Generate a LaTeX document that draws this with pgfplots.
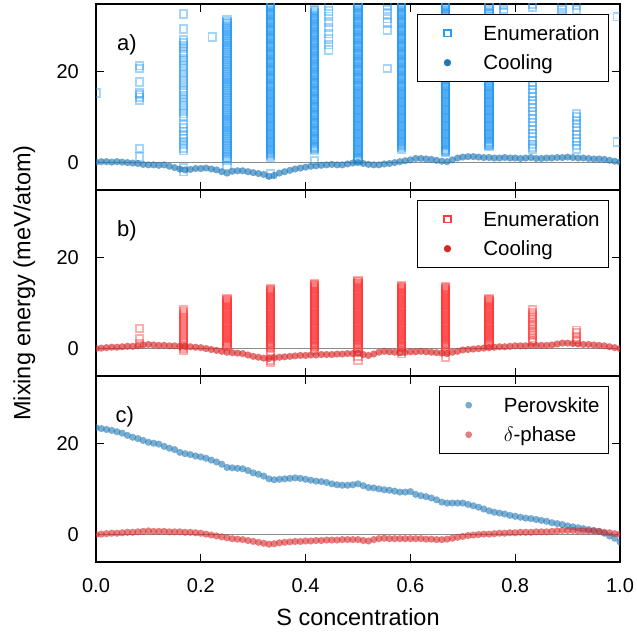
\documentclass[border=0pt]{standalone}
\usepackage{pgfplots}
\usepackage{pgfplotstable}
\pgfplotsset{compat=1.18}
\usepackage{fontspec}
\setmainfont{Liberation Sans}
\definecolor{enumblue}{HTML}{2B9AF3}
\definecolor{coolblue}{HTML}{1F77B4}
\definecolor{enumred}{HTML}{FF3B3B}
\definecolor{coolred}{HTML}{D62728}
\definecolor{zerogray}{HTML}{8C8C8C}

\pgfplotstableread{
x y
0.00 0.1
0.01 0.2
0.02 0.2
0.03 0.1
0.04 0.2
0.05 0.1
0.06 0.0
0.07 -0.1
0.08 -0.2
0.09 -0.4
0.10 -0.5
0.11 -0.5
0.12 -0.6
0.13 -0.5
0.14 -0.8
0.15 -1.1
0.16 -1.4
0.17 -1.6
0.18 -1.5
0.19 -1.3
0.20 -1.3
0.21 -1.2
0.22 -1.4
0.23 -1.6
0.24 -2.0
0.25 -2.3
0.26 -1.9
0.27 -1.8
0.28 -1.8
0.29 -2.0
0.30 -2.2
0.31 -2.4
0.32 -2.6
0.33 -3.0
0.34 -2.8
0.35 -2.3
0.36 -2.0
0.37 -1.7
0.38 -1.4
0.39 -1.2
0.40 -1.0
0.41 -0.8
0.42 -0.7
0.43 -0.6
0.44 -0.5
0.45 -0.4
0.46 -0.5
0.47 -0.5
0.48 -0.3
0.49 -0.1
0.50 0.0
0.51 -0.2
0.52 -0.4
0.53 -0.5
0.54 -0.5
0.55 -0.3
0.56 -0.2
0.57 0.0
0.58 0.2
0.59 0.4
0.60 0.6
0.61 0.9
0.62 0.9
0.63 0.8
0.64 0.7
0.65 0.5
0.66 0.3
0.67 0.2
0.68 0.6
0.69 1.0
0.70 1.2
0.71 1.3
0.72 1.3
0.73 1.2
0.74 1.1
0.75 1.1
0.76 1.0
0.77 1.0
0.78 1.1
0.79 1.0
0.80 1.0
0.81 0.9
0.82 1.0
0.83 1.1
0.84 0.9
0.85 0.9
0.86 1.0
0.87 1.0
0.88 1.1
0.89 1.1
0.90 1.2
0.91 1.1
0.92 1.0
0.93 1.0
0.94 0.9
0.95 0.8
0.96 0.8
0.97 0.7
0.98 0.5
0.99 0.3
1.00 0.1
}\coolA

\pgfplotstableread{
x y
0.00 0.0
0.01 0.1
0.02 0.2
0.03 0.3
0.04 0.3
0.05 0.4
0.06 0.5
0.07 0.5
0.08 0.6
0.09 0.8
0.10 0.9
0.11 0.8
0.12 0.7
0.13 0.7
0.14 0.6
0.15 0.6
0.16 0.5
0.17 0.5
0.18 0.4
0.19 0.3
0.20 0.2
0.21 0.0
0.22 -0.2
0.23 -0.4
0.24 -0.6
0.25 -0.8
0.26 -0.9
0.27 -1.0
0.28 -1.1
0.29 -1.4
0.30 -1.7
0.31 -1.9
0.32 -2.1
0.33 -2.2
0.34 -2.0
0.35 -1.9
0.36 -1.8
0.37 -1.7
0.38 -1.6
0.39 -1.5
0.40 -1.5
0.41 -1.4
0.42 -1.4
0.43 -1.3
0.44 -1.3
0.45 -1.3
0.46 -1.2
0.47 -1.2
0.48 -1.1
0.49 -1.1
0.50 -1.0
0.51 -1.3
0.52 -1.5
0.53 -1.2
0.54 -0.8
0.55 -0.6
0.56 -0.7
0.57 -0.8
0.58 -0.9
0.59 -0.8
0.60 -0.7
0.61 -0.7
0.62 -0.6
0.63 -0.7
0.64 -0.8
0.65 -0.9
0.66 -1.0
0.67 -1.1
0.68 -0.8
0.69 -0.6
0.70 -0.3
0.71 -0.2
0.72 -0.1
0.73 0.0
0.74 0.1
0.75 0.2
0.76 0.3
0.77 0.4
0.78 0.4
0.79 0.5
0.80 0.6
0.81 0.6
0.82 0.6
0.83 0.7
0.84 0.7
0.85 0.7
0.86 0.7
0.87 0.8
0.88 1.0
0.89 1.2
0.90 1.2
0.91 1.1
0.92 1.0
0.93 0.9
0.94 0.9
0.95 0.8
0.96 0.7
0.97 0.6
0.98 0.4
0.99 0.2
1.00 0.0
}\coolB

\pgfplotstableread{
x y
0.00 23.4
0.01 23.2
0.02 23.0
0.03 22.8
0.04 22.5
0.05 22.2
0.06 21.7
0.07 21.3
0.08 21.0
0.09 20.6
0.10 20.2
0.11 20.0
0.12 19.8
0.13 19.3
0.14 18.9
0.15 18.6
0.16 18.0
0.17 17.7
0.18 17.5
0.19 17.2
0.20 17.0
0.21 16.7
0.22 16.3
0.23 15.9
0.24 15.4
0.25 14.7
0.26 14.6
0.27 14.5
0.28 14.4
0.29 14.0
0.30 13.5
0.31 13.2
0.32 12.8
0.33 12.2
0.34 12.0
0.35 12.1
0.36 12.2
0.37 12.3
0.38 12.4
0.39 12.3
0.40 12.1
0.41 11.9
0.42 11.7
0.43 11.6
0.44 11.4
0.45 11.1
0.46 10.9
0.47 10.8
0.48 10.8
0.49 10.9
0.50 11.1
0.51 10.7
0.52 10.3
0.53 10.2
0.54 10.0
0.55 9.8
0.56 9.7
0.57 9.5
0.58 9.3
0.59 9.3
0.60 9.4
0.61 8.8
0.62 8.5
0.63 8.3
0.64 8.0
0.65 7.6
0.66 7.1
0.67 6.9
0.68 6.9
0.69 6.9
0.70 6.9
0.71 6.6
0.72 6.3
0.73 6.0
0.74 5.6
0.75 5.2
0.76 4.9
0.77 4.7
0.78 4.5
0.79 4.2
0.80 4.0
0.81 3.8
0.82 3.6
0.83 3.5
0.84 3.3
0.85 3.1
0.86 2.9
0.87 2.6
0.88 2.4
0.89 2.2
0.90 1.9
0.91 1.7
0.92 1.5
0.93 1.3
0.94 1.1
0.95 0.9
0.96 0.7
0.97 0.3
0.98 -0.3
0.99 -0.8
1.00 -1.6
}\perovtab

\pgfplotstableread{
x y
0.00 0.0
0.01 0.1
0.02 0.2
0.03 0.3
0.04 0.3
0.05 0.4
0.06 0.5
0.07 0.5
0.08 0.6
0.09 0.7
0.10 0.8
0.11 0.7
0.12 0.7
0.13 0.7
0.14 0.6
0.15 0.6
0.16 0.6
0.17 0.5
0.18 0.5
0.19 0.4
0.20 0.3
0.21 0.1
0.22 -0.1
0.23 -0.3
0.24 -0.5
0.25 -0.7
0.26 -0.9
0.27 -1.0
0.28 -1.1
0.29 -1.3
0.30 -1.5
0.31 -1.7
0.32 -1.9
0.33 -2.1
0.34 -2.0
0.35 -1.8
0.36 -1.7
0.37 -1.6
0.38 -1.5
0.39 -1.5
0.40 -1.4
0.41 -1.4
0.42 -1.3
0.43 -1.3
0.44 -1.2
0.45 -1.2
0.46 -1.2
0.47 -1.1
0.48 -1.1
0.49 -1.1
0.50 -1.1
0.51 -1.3
0.52 -1.4
0.53 -1.1
0.54 -0.9
0.55 -0.8
0.56 -0.9
0.57 -0.9
0.58 -0.9
0.59 -0.9
0.60 -0.9
0.61 -0.9
0.62 -0.9
0.63 -1.0
0.64 -1.0
0.65 -1.1
0.66 -1.1
0.67 -1.0
0.68 -0.8
0.69 -0.6
0.70 -0.4
0.71 -0.2
0.72 -0.1
0.73 0.0
0.74 0.1
0.75 0.1
0.76 0.2
0.77 0.3
0.78 0.3
0.79 0.4
0.80 0.4
0.81 0.5
0.82 0.5
0.83 0.5
0.84 0.6
0.85 0.6
0.86 0.6
0.87 0.7
0.88 0.8
0.89 0.9
0.90 0.9
0.91 0.9
0.92 0.8
0.93 0.8
0.94 0.8
0.95 0.8
0.96 0.7
0.97 0.5
0.98 0.4
0.99 0.2
1.00 0.1
}\deltatab

\pgfplotsset{
  panel/.style={
    scale only axis, width=524pt, height=186pt,
    xmin=0, xmax=1, ymin=-6, ymax=34.7,
    xtick={0,0.2,0.4,0.6,0.8,1}, ytick={0,20},
    tick align=inside, major tick length=8pt,
    every tick/.style={black, line width=1.3pt},
    axis line style={line width=1.8pt},
    tick label style={font=\fontsize{20}{24}\selectfont},
    /pgf/number format/assume math mode=true,
    yticklabel style={inner sep=0pt, xshift=-17pt},
    xticklabel style={inner sep=0pt, yshift=-16pt, /pgf/number format/.cd, fixed, fixed zerofill, precision=1},
    clip marker paths=true,
    legend cell align=left,
    legend style={at={(axis description cs:0.979,0.946)}, anchor=north east, draw=black, line width=0.8pt, fill=white,
      inner xsep=0pt, inner ysep=8.75pt, row sep=9.5pt, font=\fontsize{20.5}{24}\selectfont,
      nodes={inner xsep=9pt, inner ysep=0pt, text height=17pt, text depth=3pt}},
    legend image code/.code={\path (0pt,0pt) (55pt,0pt); \draw[##1,opacity=1,mark size=3.4pt] plot coordinates {(29pt,0pt)};},
  },
  enumA/.style={only marks, mark=square, mark size=3.8pt, color=enumblue, line width=1.8pt, opacity=0.42},
  enumB/.style={only marks, mark=square, mark size=3.8pt, color=enumred, line width=1.8pt, opacity=0.42},
  dots/.style={only marks, mark=*, mark size=3.6pt, line width=0.4pt, draw opacity=0, fill opacity=#1},
}

\begin{document}
\begin{tikzpicture}
\path[use as bounding box] (0pt,0pt) rectangle (637pt,635pt);

% ---------------- panel a ----------------
\begin{axis}[panel, at={(96pt,445pt)}, anchor=south west, xticklabels={}]
\addplot[forget plot, color=zerogray, line width=0.7pt] coordinates {(0,0) (1,0)};
\addplot[enumA] coordinates {
(0,15.2)
(0.083,21.2)(0.083,20.6)(0.083,17.6)(0.083,15.3)(0.083,14.9)(0.083,14.3)(0.083,13.6)(0.083,3.1)(0.083,1.3)
(0.167,32.5)(0.167,29.2)(0.167,26.8)(0.167,26.2)(0.167,25.5)(0.167,24.9)(0.167,24.2)(0.167,23.5)(0.167,22.8)(0.167,22.2)(0.167,21.4)(0.167,20.8)(0.167,20.1)(0.167,19.5)(0.167,18.8)(0.167,18.1)(0.167,17.5)(0.167,16.8)(0.167,16.0)(0.167,15.4)(0.167,14.7)(0.167,14.0)(0.167,13.3)(0.167,12.6)(0.167,12.0)(0.167,11.3)(0.167,10.7)(0.167,10.0)(0.167,8.5)(0.167,7.6)(0.167,6.8)(0.167,6.0)(0.167,5.3)(0.167,4.6)(0.167,3.9)(0.167,3.2)(0.167,2.6)(0.167,-1.1)(0.167,-2.0)
(0.222,27.5)
(0.25,31.2)(0.25,30.6)(0.25,30.0)(0.25,29.4)(0.25,28.8)(0.25,28.2)(0.25,27.6)(0.25,27.0)(0.25,26.4)(0.25,25.8)(0.25,25.2)(0.25,24.6)(0.25,24.0)(0.25,23.4)(0.25,22.8)(0.25,22.2)(0.25,21.6)(0.25,21.0)(0.25,20.4)(0.25,19.8)(0.25,19.2)(0.25,18.6)(0.25,18.0)(0.25,17.4)(0.25,16.8)(0.25,16.2)(0.25,15.6)(0.25,15.0)(0.25,14.4)(0.25,13.8)(0.25,13.2)(0.25,12.6)(0.25,12.0)(0.25,11.4)(0.25,10.8)(0.25,10.2)(0.25,9.6)(0.25,9.0)(0.25,8.4)(0.25,7.8)(0.25,7.2)(0.25,6.6)(0.25,6.0)(0.25,5.4)(0.25,4.8)(0.25,4.2)(0.25,3.6)(0.25,3.0)(0.25,2.4)(0.25,1.8)(0.25,1.2)(0.25,0.6)(0.25,-0.7)
(0.25,30.9)(0.25,30.3)(0.25,29.7)(0.25,29.1)(0.25,28.5)(0.25,27.9)(0.25,27.3)(0.25,26.7)(0.25,26.1)(0.25,25.5)(0.25,24.9)(0.25,24.3)(0.25,23.7)(0.25,23.1)(0.25,22.5)(0.25,21.9)(0.25,21.3)(0.25,20.7)(0.25,20.1)(0.25,19.5)(0.25,18.9)(0.25,18.3)(0.25,17.7)(0.25,17.1)(0.25,16.5)(0.25,15.9)(0.25,15.3)(0.25,14.7)(0.25,14.1)(0.25,13.5)(0.25,12.9)(0.25,12.3)(0.25,11.7)(0.25,11.1)(0.25,10.5)(0.25,9.9)(0.25,9.3)(0.25,8.7)(0.25,8.1)(0.25,7.5)(0.25,6.9)(0.25,6.3)(0.25,5.7)(0.25,5.1)(0.25,4.5)(0.25,3.9)(0.25,3.3)(0.25,2.7)(0.25,2.1)(0.25,1.5)(0.25,0.9)
(0.333,35.5)(0.333,35.0)(0.333,34.5)(0.333,34.0)(0.333,33.5)(0.333,33.0)(0.333,32.5)(0.333,32.0)(0.333,31.5)(0.333,31.0)(0.333,30.5)(0.333,30.0)(0.333,29.5)(0.333,29.0)(0.333,28.5)(0.333,28.0)(0.333,27.5)(0.333,27.0)(0.333,26.5)(0.333,26.0)(0.333,25.5)(0.333,25.0)(0.333,24.5)(0.333,24.0)(0.333,23.5)(0.333,23.0)(0.333,22.5)(0.333,22.0)(0.333,21.5)(0.333,21.0)(0.333,20.5)(0.333,20.0)(0.333,19.5)(0.333,19.0)(0.333,18.5)(0.333,18.0)(0.333,17.5)(0.333,17.0)(0.333,16.5)(0.333,16.0)(0.333,15.5)(0.333,15.0)(0.333,14.5)(0.333,14.0)(0.333,13.5)(0.333,13.0)(0.333,12.5)(0.333,12.0)(0.333,11.5)(0.333,11.0)(0.333,10.5)(0.333,10.0)(0.333,9.5)(0.333,9.0)(0.333,8.5)(0.333,8.0)(0.333,7.5)(0.333,7.0)(0.333,6.5)(0.333,6.0)(0.333,5.5)(0.333,5.0)(0.333,4.5)(0.333,4.0)(0.333,3.5)(0.333,3.0)(0.333,2.5)(0.333,2.0)(0.333,1.5)(0.333,1.2)(0.333,-2.5)
(0.333,35.25)(0.333,34.75)(0.333,34.25)(0.333,33.75)(0.333,33.25)(0.333,32.75)(0.333,32.25)(0.333,31.75)(0.333,31.25)(0.333,30.75)(0.333,30.25)(0.333,29.75)(0.333,29.25)(0.333,28.75)(0.333,28.25)(0.333,27.75)(0.333,27.25)(0.333,26.75)(0.333,26.25)(0.333,25.75)(0.333,25.25)(0.333,24.75)(0.333,24.25)(0.333,23.75)(0.333,23.25)(0.333,22.75)(0.333,22.25)(0.333,21.75)(0.333,21.25)(0.333,20.75)(0.333,20.25)(0.333,19.75)(0.333,19.25)(0.333,18.75)(0.333,18.25)(0.333,17.75)(0.333,17.25)(0.333,16.75)(0.333,16.25)(0.333,15.75)(0.333,15.25)(0.333,14.75)(0.333,14.25)(0.333,13.75)(0.333,13.25)(0.333,12.75)(0.333,12.25)(0.333,11.75)(0.333,11.25)(0.333,10.75)(0.333,10.25)(0.333,9.75)(0.333,9.25)(0.333,8.75)(0.333,8.25)(0.333,7.75)(0.333,7.25)(0.333,6.75)(0.333,6.25)(0.333,5.75)(0.333,5.25)(0.333,4.75)(0.333,4.25)(0.333,3.75)(0.333,3.25)(0.333,2.75)(0.333,2.25)(0.333,1.75)
(0.417,33.4)(0.417,32.9)(0.417,32.4)(0.417,31.9)(0.417,31.4)(0.417,30.9)(0.417,30.4)(0.417,29.9)(0.417,29.4)(0.417,28.9)(0.417,28.4)(0.417,27.9)(0.417,27.4)(0.417,26.9)(0.417,26.4)(0.417,25.9)(0.417,25.4)(0.417,24.9)(0.417,24.4)(0.417,23.9)(0.417,23.4)(0.417,22.9)(0.417,22.4)(0.417,21.9)(0.417,21.4)(0.417,20.9)(0.417,20.4)(0.417,19.9)(0.417,19.4)(0.417,18.9)(0.417,18.4)(0.417,17.9)(0.417,17.4)(0.417,16.9)(0.417,16.4)(0.417,15.9)(0.417,15.4)(0.417,14.9)(0.417,14.4)(0.417,13.9)(0.417,13.4)(0.417,12.9)(0.417,12.4)(0.417,11.9)(0.417,11.4)(0.417,10.9)(0.417,10.4)(0.417,9.9)(0.417,9.4)(0.417,8.9)(0.417,8.4)(0.417,7.9)(0.417,7.4)(0.417,6.9)(0.417,6.4)(0.417,5.9)(0.417,5.4)(0.417,4.9)(0.417,4.4)(0.417,3.9)(0.417,3.4)(0.417,2.9)(0.417,2.6)(0.417,0.4)
(0.417,33.15)(0.417,32.65)(0.417,32.15)(0.417,31.65)(0.417,31.15)(0.417,30.65)(0.417,30.15)(0.417,29.65)(0.417,29.15)(0.417,28.65)(0.417,28.15)(0.417,27.65)(0.417,27.15)(0.417,26.65)(0.417,26.15)(0.417,25.65)(0.417,25.15)(0.417,24.65)(0.417,24.15)(0.417,23.65)(0.417,23.15)(0.417,22.65)(0.417,22.15)(0.417,21.65)(0.417,21.15)(0.417,20.65)(0.417,20.15)(0.417,19.65)(0.417,19.15)(0.417,18.65)(0.417,18.15)(0.417,17.65)(0.417,17.15)(0.417,16.65)(0.417,16.15)(0.417,15.65)(0.417,15.15)(0.417,14.65)(0.417,14.15)(0.417,13.65)(0.417,13.15)(0.417,12.65)(0.417,12.15)(0.417,11.65)(0.417,11.15)(0.417,10.65)(0.417,10.15)(0.417,9.65)(0.417,9.15)(0.417,8.65)(0.417,8.15)(0.417,7.65)(0.417,7.15)(0.417,6.65)(0.417,6.15)(0.417,5.65)(0.417,5.15)(0.417,4.65)(0.417,4.15)(0.417,3.65)(0.417,3.15)
(0.444,34.3)(0.444,33.2)(0.444,32.0)(0.444,30.8)(0.444,29.5)(0.444,28.2)(0.444,27.0)(0.444,25.8)(0.444,24.6)
(0.5,35.5)(0.5,35.0)(0.5,34.5)(0.5,34.0)(0.5,33.5)(0.5,33.0)(0.5,32.5)(0.5,32.0)(0.5,31.5)(0.5,31.0)(0.5,30.5)(0.5,30.0)(0.5,29.5)(0.5,29.0)(0.5,28.5)(0.5,28.0)(0.5,27.5)(0.5,27.0)(0.5,26.5)(0.5,26.0)(0.5,25.5)(0.5,25.0)(0.5,24.5)(0.5,24.0)(0.5,23.5)(0.5,23.0)(0.5,22.5)(0.5,22.0)(0.5,21.5)(0.5,21.0)(0.5,20.5)(0.5,20.0)(0.5,19.5)(0.5,19.0)(0.5,18.5)(0.5,18.0)(0.5,17.5)(0.5,17.0)(0.5,16.5)(0.5,16.0)(0.5,15.5)(0.5,15.0)(0.5,14.5)(0.5,14.0)(0.5,13.5)(0.5,13.0)(0.5,12.5)(0.5,12.0)(0.5,11.5)(0.5,11.0)(0.5,10.5)(0.5,10.0)(0.5,9.5)(0.5,9.0)(0.5,8.5)(0.5,8.0)(0.5,7.5)(0.5,7.0)(0.5,6.5)(0.5,6.0)(0.5,5.5)(0.5,5.0)(0.5,4.5)(0.5,4.0)(0.5,3.5)(0.5,3.0)(0.5,2.5)(0.5,2.0)(0.5,1.5)(0.5,1.0)(0.5,0.6)
(0.5,35.25)(0.5,34.75)(0.5,34.25)(0.5,33.75)(0.5,33.25)(0.5,32.75)(0.5,32.25)(0.5,31.75)(0.5,31.25)(0.5,30.75)(0.5,30.25)(0.5,29.75)(0.5,29.25)(0.5,28.75)(0.5,28.25)(0.5,27.75)(0.5,27.25)(0.5,26.75)(0.5,26.25)(0.5,25.75)(0.5,25.25)(0.5,24.75)(0.5,24.25)(0.5,23.75)(0.5,23.25)(0.5,22.75)(0.5,22.25)(0.5,21.75)(0.5,21.25)(0.5,20.75)(0.5,20.25)(0.5,19.75)(0.5,19.25)(0.5,18.75)(0.5,18.25)(0.5,17.75)(0.5,17.25)(0.5,16.75)(0.5,16.25)(0.5,15.75)(0.5,15.25)(0.5,14.75)(0.5,14.25)(0.5,13.75)(0.5,13.25)(0.5,12.75)(0.5,12.25)(0.5,11.75)(0.5,11.25)(0.5,10.75)(0.5,10.25)(0.5,9.75)(0.5,9.25)(0.5,8.75)(0.5,8.25)(0.5,7.75)(0.5,7.25)(0.5,6.75)(0.5,6.25)(0.5,5.75)(0.5,5.25)(0.5,4.75)(0.5,4.25)(0.5,3.75)(0.5,3.25)(0.5,2.75)(0.5,2.25)(0.5,1.75)(0.5,1.25)(0.5,0.75)
(0.556,34.5)(0.556,33.5)(0.556,32.5)(0.556,31.5)(0.556,30.5)(0.556,29.0)(0.556,20.6)
(0.583,35.5)(0.583,35.0)(0.583,34.5)(0.583,34.0)(0.583,33.5)(0.583,33.0)(0.583,32.5)(0.583,32.0)(0.583,31.5)(0.583,31.0)(0.583,30.5)(0.583,30.0)(0.583,29.5)(0.583,29.0)(0.583,28.5)(0.583,28.0)(0.583,27.5)(0.583,27.0)(0.583,26.5)(0.583,26.0)(0.583,25.5)(0.583,25.0)(0.583,24.5)(0.583,24.0)(0.583,23.5)(0.583,23.0)(0.583,22.5)(0.583,22.0)(0.583,21.5)(0.583,21.0)(0.583,20.5)(0.583,20.0)(0.583,19.5)(0.583,19.0)(0.583,18.5)(0.583,18.0)(0.583,17.5)(0.583,17.0)(0.583,16.5)(0.583,16.0)(0.583,15.5)(0.583,15.0)(0.583,14.5)(0.583,14.0)(0.583,13.5)(0.583,13.0)(0.583,12.5)(0.583,12.0)(0.583,11.5)(0.583,11.0)(0.583,10.5)(0.583,10.0)(0.583,9.5)(0.583,9.0)(0.583,8.5)(0.583,8.0)(0.583,7.5)(0.583,7.0)(0.583,6.5)(0.583,6.0)(0.583,5.5)(0.583,5.0)(0.583,4.5)(0.583,4.0)(0.583,3.5)(0.583,3.0)
(0.583,35.25)(0.583,34.75)(0.583,34.25)(0.583,33.75)(0.583,33.25)(0.583,32.75)(0.583,32.25)(0.583,31.75)(0.583,31.25)(0.583,30.75)(0.583,30.25)(0.583,29.75)(0.583,29.25)(0.583,28.75)(0.583,28.25)(0.583,27.75)(0.583,27.25)(0.583,26.75)(0.583,26.25)(0.583,25.75)(0.583,25.25)(0.583,24.75)(0.583,24.25)(0.583,23.75)(0.583,23.25)(0.583,22.75)(0.583,22.25)(0.583,21.75)(0.583,21.25)(0.583,20.75)(0.583,20.25)(0.583,19.75)(0.583,19.25)(0.583,18.75)(0.583,18.25)(0.583,17.75)(0.583,17.25)(0.583,16.75)(0.583,16.25)(0.583,15.75)(0.583,15.25)(0.583,14.75)(0.583,14.25)(0.583,13.75)(0.583,13.25)(0.583,12.75)(0.583,12.25)(0.583,11.75)(0.583,11.25)(0.583,10.75)(0.583,10.25)(0.583,9.75)(0.583,9.25)(0.583,8.75)(0.583,8.25)(0.583,7.75)(0.583,7.25)(0.583,6.75)(0.583,6.25)(0.583,5.75)(0.583,5.25)(0.583,4.75)(0.583,4.25)(0.583,3.75)(0.583,3.25)
(0.667,35.5)(0.667,35.0)(0.667,34.5)(0.667,34.0)(0.667,33.5)(0.667,33.0)(0.667,32.5)(0.667,32.0)(0.667,31.5)(0.667,31.0)(0.667,30.5)(0.667,30.0)(0.667,29.5)(0.667,29.0)(0.667,28.5)(0.667,28.0)(0.667,27.5)(0.667,27.0)(0.667,26.5)(0.667,26.0)(0.667,25.5)(0.667,25.0)(0.667,24.5)(0.667,24.0)(0.667,23.5)(0.667,23.0)(0.667,22.5)(0.667,22.0)(0.667,21.5)(0.667,21.0)(0.667,20.5)(0.667,20.0)(0.667,19.5)(0.667,19.0)(0.667,18.5)(0.667,18.0)(0.667,17.5)(0.667,17.0)(0.667,16.5)(0.667,16.0)(0.667,15.5)(0.667,15.0)(0.667,14.5)(0.667,14.0)(0.667,13.5)(0.667,13.0)(0.667,12.5)(0.667,12.0)(0.667,11.5)(0.667,11.0)(0.667,10.5)(0.667,10.0)(0.667,9.5)(0.667,9.0)(0.667,8.5)(0.667,8.0)(0.667,7.5)(0.667,7.0)(0.667,6.5)(0.667,6.0)(0.667,5.5)(0.667,5.0)(0.667,4.5)(0.667,4.0)(0.667,3.5)(0.667,3.0)(0.667,2.5)(0.667,2.3)
(0.667,35.25)(0.667,34.75)(0.667,34.25)(0.667,33.75)(0.667,33.25)(0.667,32.75)(0.667,32.25)(0.667,31.75)(0.667,31.25)(0.667,30.75)(0.667,30.25)(0.667,29.75)(0.667,29.25)(0.667,28.75)(0.667,28.25)(0.667,27.75)(0.667,27.25)(0.667,26.75)(0.667,26.25)(0.667,25.75)(0.667,25.25)(0.667,24.75)(0.667,24.25)(0.667,23.75)(0.667,23.25)(0.667,22.75)(0.667,22.25)(0.667,21.75)(0.667,21.25)(0.667,20.75)(0.667,20.25)(0.667,19.75)(0.667,19.25)(0.667,18.75)(0.667,18.25)(0.667,17.75)(0.667,17.25)(0.667,16.75)(0.667,16.25)(0.667,15.75)(0.667,15.25)(0.667,14.75)(0.667,14.25)(0.667,13.75)(0.667,13.25)(0.667,12.75)(0.667,12.25)(0.667,11.75)(0.667,11.25)(0.667,10.75)(0.667,10.25)(0.667,9.75)(0.667,9.25)(0.667,8.75)(0.667,8.25)(0.667,7.75)(0.667,7.25)(0.667,6.75)(0.667,6.25)(0.667,5.75)(0.667,5.25)(0.667,4.75)(0.667,4.25)(0.667,3.75)(0.667,3.25)(0.667,2.75)
(0.75,35.5)(0.75,35.0)(0.75,34.5)(0.75,34.0)(0.75,33.5)(0.75,33.0)(0.75,32.5)(0.75,32.0)(0.75,31.5)(0.75,31.0)(0.75,30.5)(0.75,30.0)(0.75,29.5)(0.75,29.0)(0.75,28.5)(0.75,28.0)(0.75,27.5)(0.75,27.0)(0.75,26.5)(0.75,26.0)(0.75,25.5)(0.75,25.0)(0.75,24.5)(0.75,24.0)(0.75,23.5)(0.75,23.0)(0.75,22.5)(0.75,22.0)(0.75,21.5)(0.75,21.0)(0.75,20.5)(0.75,20.0)(0.75,19.5)(0.75,19.0)(0.75,18.5)(0.75,18.0)(0.75,17.5)(0.75,17.0)(0.75,16.5)(0.75,16.0)(0.75,15.5)(0.75,15.0)(0.75,14.5)(0.75,14.0)(0.75,13.5)(0.75,13.0)(0.75,12.5)(0.75,12.0)(0.75,11.5)(0.75,11.0)(0.75,10.5)(0.75,10.0)(0.75,9.5)(0.75,9.0)(0.75,8.5)(0.75,8.0)(0.75,7.5)(0.75,7.0)(0.75,6.5)(0.75,6.0)(0.75,5.5)(0.75,5.0)(0.75,4.5)(0.75,4.0)(0.75,3.5)
(0.75,35.25)(0.75,34.75)(0.75,34.25)(0.75,17.75)(0.75,17.25)(0.75,16.75)(0.75,16.25)(0.75,15.75)(0.75,15.25)(0.75,14.75)(0.75,14.25)(0.75,13.75)(0.75,13.25)(0.75,12.75)(0.75,12.25)(0.75,11.75)(0.75,11.25)(0.75,10.75)(0.75,10.25)(0.75,9.75)(0.75,9.25)(0.75,8.75)(0.75,8.25)(0.75,7.75)(0.75,7.25)(0.75,6.75)(0.75,6.25)(0.75,5.75)(0.75,5.25)(0.75,4.75)(0.75,4.25)(0.75,3.75)
(0.778,34.5)(0.778,33.5)(0.778,33.0)
(0.833,34.7)(0.833,34.0)(0.833,17.6)(0.833,16.8)(0.833,16.0)(0.833,15.2)(0.833,14.4)(0.833,13.6)(0.833,12.8)(0.833,12.0)(0.833,11.2)(0.833,10.4)(0.833,9.6)(0.833,8.8)(0.833,8.0)(0.833,7.2)(0.833,6.4)(0.833,5.6)(0.833,4.8)(0.833,4.0)(0.833,3.4)(0.833,3.0)
(0.889,34.5)(0.889,33.5)(0.889,32.3)
(0.917,34.5)(0.917,33.4)(0.917,10.7)(0.917,10.0)(0.917,9.2)(0.917,8.5)(0.917,7.7)(0.917,6.9)(0.917,6.1)(0.917,5.3)(0.917,4.6)(0.917,3.8)(0.917,3.0)
(0.995,31.9)(0.995,4.5)
};
\addlegendentry{Enumeration}
\addplot[dots=0.65, color=coolblue] table[x=x, y=y] {\coolA};
\addlegendentry{Cooling}
\node[font=\fontsize{22}{26}\selectfont] at (axis cs:0.059,25.7) {a)};
\end{axis}

% ---------------- panel b ----------------
\begin{axis}[panel, at={(96pt,259pt)}, anchor=south west, xticklabels={},
  ylabel={Mixing energy (meV/atom)},
  ylabel style={at={(axis description cs:-0.137,0.5)}, anchor=center, font=\fontsize{23.5}{28}\selectfont}]
\addplot[forget plot, color=zerogray, line width=0.7pt] coordinates {(0,0) (1,0)};
\addplot[enumB] coordinates {
(0.083,4.4)(0.083,2.2)(0.083,1.1)
(0.167,8.4)(0.167,8.0)(0.167,7.6)(0.167,7.2)(0.167,6.8)(0.167,6.4)(0.167,6.0)(0.167,5.6)(0.167,5.2)(0.167,4.8)(0.167,4.4)(0.167,4.0)(0.167,3.6)(0.167,3.2)(0.167,2.8)(0.167,2.4)(0.167,2.0)(0.167,1.6)(0.167,1.2)(0.167,0.8)(0.167,0.4)(0.167,0.0)(0.167,-0.4)
(0.25,10.9)(0.25,10.5)(0.25,10.1)(0.25,9.7)(0.25,9.3)(0.25,8.9)(0.25,8.5)(0.25,8.1)(0.25,7.7)(0.25,7.3)(0.25,6.9)(0.25,6.5)(0.25,6.1)(0.25,5.7)(0.25,5.3)(0.25,4.9)(0.25,4.5)(0.25,4.1)(0.25,3.7)(0.25,3.3)(0.25,2.9)(0.25,2.5)(0.25,2.1)(0.25,1.7)(0.25,1.3)(0.25,0.9)(0.25,0.5)
(0.25,10.7)(0.25,10.3)(0.25,9.9)(0.25,9.5)(0.25,9.1)(0.25,8.7)(0.25,8.3)(0.25,7.9)(0.25,7.5)(0.25,7.1)(0.25,6.7)(0.25,6.3)(0.25,5.9)(0.25,5.5)(0.25,5.1)(0.25,4.7)(0.25,4.3)(0.25,3.9)(0.25,3.5)(0.25,3.1)(0.25,2.7)(0.25,2.3)(0.25,1.9)(0.25,1.5)(0.25,1.1)(0.25,0.7)
(0.333,13.1)(0.333,12.7)(0.333,12.3)(0.333,11.9)(0.333,11.5)(0.333,11.1)(0.333,10.7)(0.333,10.3)(0.333,9.9)(0.333,9.5)(0.333,9.1)(0.333,8.7)(0.333,8.3)(0.333,7.9)(0.333,7.5)(0.333,7.1)(0.333,6.7)(0.333,6.3)(0.333,5.9)(0.333,5.5)(0.333,5.1)(0.333,4.7)(0.333,4.3)(0.333,3.9)(0.333,3.5)(0.333,3.1)(0.333,2.7)(0.333,2.3)(0.333,1.9)(0.333,1.5)(0.333,1.1)(0.333,0.7)(0.333,0.3)(0.333,-0.5)(0.333,-1.5)(0.333,-2.5)(0.333,-2.9)
(0.333,12.9)(0.333,12.5)(0.333,12.1)(0.333,11.7)(0.333,11.3)(0.333,10.9)(0.333,10.5)(0.333,10.1)(0.333,9.7)(0.333,9.3)(0.333,8.9)(0.333,8.5)(0.333,8.1)(0.333,7.7)(0.333,7.3)(0.333,6.9)(0.333,6.5)(0.333,6.1)(0.333,5.7)(0.333,5.3)(0.333,4.9)(0.333,4.5)(0.333,4.1)(0.333,3.7)(0.333,3.3)(0.333,2.9)(0.333,2.5)(0.333,2.1)(0.333,1.7)(0.333,1.3)(0.333,0.9)(0.333,0.5)
(0.417,14.2)(0.417,13.8)(0.417,13.4)(0.417,13.0)(0.417,12.6)(0.417,12.2)(0.417,11.8)(0.417,11.4)(0.417,11.0)(0.417,10.6)(0.417,10.2)(0.417,9.8)(0.417,9.4)(0.417,9.0)(0.417,8.6)(0.417,8.2)(0.417,7.8)(0.417,7.4)(0.417,7.0)(0.417,6.6)(0.417,6.2)(0.417,5.8)(0.417,5.4)(0.417,5.0)(0.417,4.6)(0.417,4.2)(0.417,3.8)(0.417,3.4)(0.417,3.0)(0.417,2.6)(0.417,2.2)(0.417,1.8)(0.417,1.4)(0.417,1.0)(0.417,0.6)(0.417,0.2)(0.417,-0.4)
(0.417,14.0)(0.417,13.6)(0.417,13.2)(0.417,12.8)(0.417,12.4)(0.417,12.0)(0.417,11.6)(0.417,11.2)(0.417,10.8)(0.417,10.4)(0.417,10.0)(0.417,9.6)(0.417,9.2)(0.417,8.8)(0.417,8.4)(0.417,8.0)(0.417,7.6)(0.417,7.2)(0.417,6.8)(0.417,6.4)(0.417,6.0)(0.417,5.6)(0.417,5.2)(0.417,4.8)(0.417,4.4)(0.417,4.0)(0.417,3.6)(0.417,3.2)(0.417,2.8)(0.417,2.4)(0.417,2.0)(0.417,1.6)(0.417,1.2)(0.417,0.8)(0.417,0.4)
(0.5,14.9)(0.5,14.5)(0.5,14.1)(0.5,13.7)(0.5,13.3)(0.5,12.9)(0.5,12.5)(0.5,12.1)(0.5,11.7)(0.5,11.3)(0.5,10.9)(0.5,10.5)(0.5,10.1)(0.5,9.7)(0.5,9.3)(0.5,8.9)(0.5,8.5)(0.5,8.1)(0.5,7.7)(0.5,7.3)(0.5,6.9)(0.5,6.5)(0.5,6.1)(0.5,5.7)(0.5,5.3)(0.5,4.9)(0.5,4.5)(0.5,4.1)(0.5,3.7)(0.5,3.3)(0.5,2.9)(0.5,2.5)(0.5,2.1)(0.5,1.7)(0.5,1.3)(0.5,0.9)(0.5,0.5)(0.5,0.1)(0.5,-0.6)(0.5,-1.6)(0.5,-2.5)
(0.5,14.7)(0.5,14.3)(0.5,13.9)(0.5,13.5)(0.5,13.1)(0.5,12.7)(0.5,12.3)(0.5,11.9)(0.5,11.5)(0.5,11.1)(0.5,10.7)(0.5,10.3)(0.5,9.9)(0.5,9.5)(0.5,9.1)(0.5,8.7)(0.5,8.3)(0.5,7.9)(0.5,7.5)(0.5,7.1)(0.5,6.7)(0.5,6.3)(0.5,5.9)(0.5,5.5)(0.5,5.1)(0.5,4.7)(0.5,4.3)(0.5,3.9)(0.5,3.5)(0.5,3.1)(0.5,2.7)(0.5,2.3)(0.5,1.9)(0.5,1.5)(0.5,1.1)(0.5,0.7)(0.5,0.3)
(0.583,13.8)(0.583,13.4)(0.583,13.0)(0.583,12.6)(0.583,12.2)(0.583,11.8)(0.583,11.4)(0.583,11.0)(0.583,10.6)(0.583,10.2)(0.583,9.8)(0.583,9.4)(0.583,9.0)(0.583,8.6)(0.583,8.2)(0.583,7.8)(0.583,7.4)(0.583,7.0)(0.583,6.6)(0.583,6.2)(0.583,5.8)(0.583,5.4)(0.583,5.0)(0.583,4.6)(0.583,4.2)(0.583,3.8)(0.583,3.4)(0.583,3.0)(0.583,2.6)(0.583,2.2)(0.583,1.8)(0.583,1.4)(0.583,1.0)(0.583,0.6)(0.583,0.2)(0.583,-0.5)(0.583,-1.1)
(0.583,13.6)(0.583,13.2)(0.583,12.8)(0.583,12.4)(0.583,12.0)(0.583,11.6)(0.583,11.2)(0.583,10.8)(0.583,10.4)(0.583,10.0)(0.583,9.6)(0.583,9.2)(0.583,8.8)(0.583,8.4)(0.583,8.0)(0.583,7.6)(0.583,7.2)(0.583,6.8)(0.583,6.4)(0.583,6.0)(0.583,5.6)(0.583,5.2)(0.583,4.8)(0.583,4.4)(0.583,4.0)(0.583,3.6)(0.583,3.2)(0.583,2.8)(0.583,2.4)(0.583,2.0)(0.583,1.6)(0.583,1.2)(0.583,0.8)(0.583,0.4)
(0.667,13.5)(0.667,13.1)(0.667,12.7)(0.667,12.3)(0.667,11.9)(0.667,11.5)(0.667,11.1)(0.667,10.7)(0.667,10.3)(0.667,9.9)(0.667,9.5)(0.667,9.1)(0.667,8.7)(0.667,8.3)(0.667,7.9)(0.667,7.5)(0.667,7.1)(0.667,6.7)(0.667,6.3)(0.667,5.9)(0.667,5.5)(0.667,5.1)(0.667,4.7)(0.667,4.3)(0.667,3.9)(0.667,3.5)(0.667,3.1)(0.667,2.7)(0.667,2.3)(0.667,1.9)(0.667,1.5)(0.667,1.1)(0.667,0.7)(0.667,0.3)(0.667,-0.6)(0.667,-1.8)
(0.667,13.3)(0.667,12.9)(0.667,12.5)(0.667,12.1)(0.667,11.7)(0.667,11.3)(0.667,10.9)(0.667,10.5)(0.667,10.1)(0.667,9.7)(0.667,9.3)(0.667,8.9)(0.667,8.5)(0.667,8.1)(0.667,7.7)(0.667,7.3)(0.667,6.9)(0.667,6.5)(0.667,6.1)(0.667,5.7)(0.667,5.3)(0.667,4.9)(0.667,4.5)(0.667,4.1)(0.667,3.7)(0.667,3.3)(0.667,2.9)(0.667,2.5)(0.667,2.1)(0.667,1.7)(0.667,1.3)(0.667,0.9)(0.667,0.5)
(0.75,10.9)(0.75,10.5)(0.75,10.1)(0.75,9.7)(0.75,9.3)(0.75,8.9)(0.75,8.5)(0.75,8.1)(0.75,7.7)(0.75,7.3)(0.75,6.9)(0.75,6.5)(0.75,6.1)(0.75,5.7)(0.75,5.3)(0.75,4.9)(0.75,4.5)(0.75,4.1)(0.75,3.7)(0.75,3.3)(0.75,2.9)(0.75,2.5)(0.75,2.1)(0.75,1.7)(0.75,1.3)(0.75,0.7)
(0.75,10.7)(0.75,10.3)(0.75,9.9)(0.75,9.5)(0.75,9.1)(0.75,8.7)(0.75,8.3)(0.75,7.9)(0.75,7.5)(0.75,7.1)(0.75,6.7)(0.75,6.3)(0.75,5.9)(0.75,5.5)(0.75,5.1)(0.75,4.7)(0.75,4.3)(0.75,3.9)(0.75,3.5)(0.75,3.1)(0.75,2.7)(0.75,2.3)(0.75,1.9)(0.75,1.5)(0.75,1.1)
(0.833,8.4)(0.833,7.9)(0.833,7.4)(0.833,6.9)(0.833,6.4)(0.833,5.9)(0.833,5.4)(0.833,4.9)(0.833,4.4)(0.833,3.9)(0.833,3.4)(0.833,2.9)(0.833,2.4)(0.833,1.9)(0.833,1.5)
(0.917,4.0)(0.917,3.4)(0.917,2.6)(0.917,2.0)(0.917,1.5)
};
\addlegendentry{Enumeration}
\addplot[dots=0.65, color=coolred] table[x=x, y=y] {\coolB};
\addlegendentry{Cooling}
\node[font=\fontsize{22}{26}\selectfont] at (axis cs:0.059,25.8) {b)};
\end{axis}

% ---------------- panel c ----------------
\begin{axis}[panel, at={(96pt,73pt)}, anchor=south west,
  xlabel={S concentration},
  xlabel style={at={(axis description cs:0.5,-0.296)}, anchor=center, font=\fontsize{23.5}{28}\selectfont},
  legend image code/.code={\path (0pt,0pt) (55pt,0pt); \draw[#1,mark size=3.4pt] plot coordinates {(29pt,0pt)};}]
\addplot[forget plot, color=zerogray, line width=0.7pt] coordinates {(0,0) (1,0)};
\addplot[dots=0.6, color=coolblue] table[x=x, y=y] {\perovtab};
\addlegendentry{Perovskite}
\addplot[dots=0.6, color=coolred] table[x=x, y=y] {\deltatab};
\addlegendentry{$\delta$-phase}
\node[font=\fontsize{22}{26}\selectfont] at (axis cs:0.055,25.7) {c)};
\end{axis}
\end{tikzpicture}
\end{document}
